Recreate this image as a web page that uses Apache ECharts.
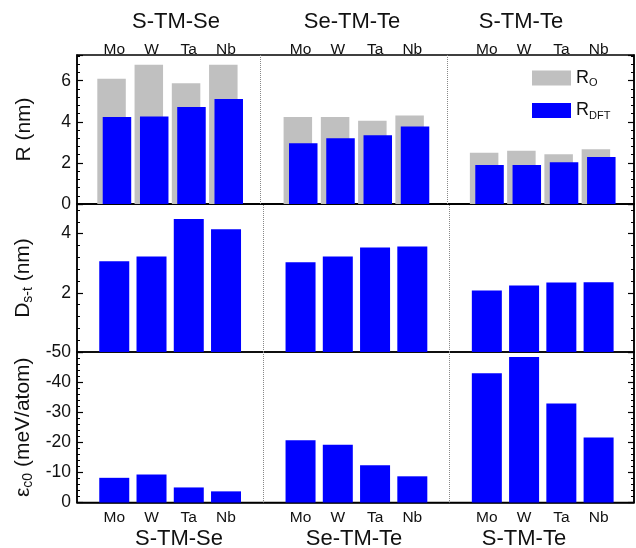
<!DOCTYPE html>
<html><head><meta charset="utf-8">
<script src="https://cdn.jsdelivr.net/npm/echarts@6/dist/echarts.min.js"></script>
<style>html,body{margin:0;padding:0;background:#fff}#c{width:636px;height:548px}</style>
</head><body><div id="c"></div>
<script>
var metals = ['Mo', 'W', 'Ta', 'Nb'];
var groups = ['S-TM-Se', 'Se-TM-Te', 'S-TM-Te'];
var xPos = [1, 2, 3, 4, 6, 7, 8, 9, 11, 12, 13, 14];
var xLabels = {1:'Mo',2:'W',3:'Ta',4:'Nb',6:'Mo',7:'W',8:'Ta',9:'Nb',11:'Mo',12:'W',13:'Ta',14:'Nb'};
var rO   = [6.10, 6.78, 5.87, 6.78, 4.23, 4.23, 4.05, 4.31, 2.49, 2.59, 2.42, 2.67];
var rDFT = [4.23, 4.26, 4.72, 5.11, 2.96, 3.20, 3.35, 3.77, 1.90, 1.90, 2.03, 2.29];
var dSt  = [3.07, 3.23, 4.49, 4.15, 3.03, 3.23, 3.53, 3.56, 2.08, 2.25, 2.35, 2.36];
var eC0  = [-8.2, -9.3, -5.0, -3.7, -20.7, -19.2, -12.4, -8.7, -42.9, -48.3, -32.9, -21.6];

function pairs(vals){ return vals.map(function(v,i){ return [xPos[i], v]; }); }
var FONT = 'Liberation Sans';
var blue = '#0000ff', gray = '#c0c0c0';

function xAxis(idx, pos, show, margin){
  return {type:'value', gridIndex: idx, min:0, max:14.95, interval:1, position: pos,
    axisLine:{show:show, lineStyle:{color:'#000', width:1.5}},
    axisTick:{show:false}, splitLine:{show:false},
    axisLabel:{show:show, fontFamily:FONT, fontSize:15.5, color:'#111', margin:margin,
      showMinLabel:true, showMaxLabel:false,
      formatter:function(v){ return xLabels[v] || ''; }}};
}
function yAxis(idx, opt, right){
  var a = {type:'value', gridIndex: idx, min:opt.min, max:opt.max, interval:opt.interval,
    inverse: !!opt.inverse, position: right ? 'right' : 'left',
    axisLine:{show:true, lineStyle:{color:'#000', width:1.5}},
    axisTick:{show:true, inside:true, length:6, lineStyle:{color:'#000', width:1.2}},
    minorTick:{show:true, splitNumber:5, length:3, lineStyle:{color:'#000', width:1}},
    splitLine:{show:false},
    axisLabel:{show:!right, fontFamily:FONT, fontSize:17.5, color:'#111', margin:6,
      showMinLabel: opt.showMin !== false, showMaxLabel: opt.showMax !== false}};
  if (!right) {
    a.name = opt.name; a.nameLocation = 'middle'; a.nameGap = opt.gap; a.nameRotate = 90;
    a.nameTextStyle = {fontFamily:FONT, fontSize:21, color:'#111', rich: {
      n:{fontFamily:FONT, fontSize:21, color:'#111'},
      s:{fontFamily:FONT, fontSize:14, color:'#111', padding:[10,0,0,0]},
      e:{fontFamily:FONT, fontSize:14, color:'#111', padding:[10,0,0,0]}}};
  }
  return a;
}
var vline = {silent:true, symbol:'none', label:{show:false},
  lineStyle:{color:'#888', type:'dotted', width:1}, data:[{xAxis:5},{xAxis:10}]};

function title(txt, x, y){
  return {type:'text', x:x, y:y, style:{text:txt, font:'22px "Liberation Sans"', fill:'#111',
    textAlign:'center', textVerticalAlign:'middle'}};
}

var option = {
  animation:false,
  grid:[
    {left:77, right:2, top:55, height:149, show:true, borderColor:'#000', borderWidth:1.5},
    {left:77, right:2, top:204, height:148, show:true, borderColor:'#000', borderWidth:1.5},
    {left:77, right:2, top:352, height:150.5, show:true, borderColor:'#000', borderWidth:1.5}
  ],
  xAxis:[xAxis(0,'top',true,-3), xAxis(1,'bottom',false,4), xAxis(2,'bottom',true,7)],
  yAxis:[
    yAxis(0,{min:0,max:7.25,interval:2,showMax:false,name:'{n|R (nm)}',gap:42}),
    yAxis(1,{min:0,max:5,interval:2,showMin:false,showMax:false,name:'{n|D}{s|s-t}{n| (nm)}',gap:42}),
    yAxis(2,{min:-50,max:0,interval:10,inverse:true,name:'{n|ε}{e|c0}{n| (meV/atom)}',gap:42}),
    yAxis(0,{min:0,max:7.25,interval:2},true),
    yAxis(1,{min:0,max:5,interval:2},true),
    yAxis(2,{min:-50,max:0,interval:10,inverse:true},true)
  ],
  legend:{left:527, top:64, orient:'vertical', itemWidth:39, itemHeight:15, itemGap:13,
    icon:'rect', data:['RO','RDFT'],
    formatter:function(n){ return n==='RO' ? '{a|R}{b|O}' : '{a|R}{b|DFT}'; },
    textStyle:{fontFamily:FONT, color:'#111', rich:{
      a:{fontFamily:FONT, fontSize:18, color:'#111'},
      b:{fontFamily:FONT, fontSize:11, color:'#111', padding:[10,0,0,0]}}}},
  series:[
    {name:'RO', type:'bar', xAxisIndex:0, yAxisIndex:0, data:pairs(rO), barWidth:28.5, barGap:'-81%',
     itemStyle:{color:gray}, markLine:vline},
    {name:'RDFT', type:'bar', xAxisIndex:0, yAxisIndex:0, data:pairs(rDFT), barWidth:28.5, barGap:'-81%',
     itemStyle:{color:blue}},
    {name:'D', type:'bar', xAxisIndex:1, yAxisIndex:1, data:pairs(dSt), barWidth:30,
     itemStyle:{color:blue}, markLine:vline},
    {name:'E', type:'bar', xAxisIndex:2, yAxisIndex:2, data:pairs(eC0), barWidth:30,
     itemStyle:{color:blue}, markLine:vline}
  ],
  graphic:[
    title(groups[0], 176, 22), title(groups[1], 352, 22), title(groups[2], 521, 22),
    title(groups[0], 179, 539), title(groups[1], 354, 539), title(groups[2], 524, 539)
  ]
};
var chart = echarts.init(document.getElementById('c'), null, {renderer:'canvas'});
chart.setOption(option);
</script></body></html>
